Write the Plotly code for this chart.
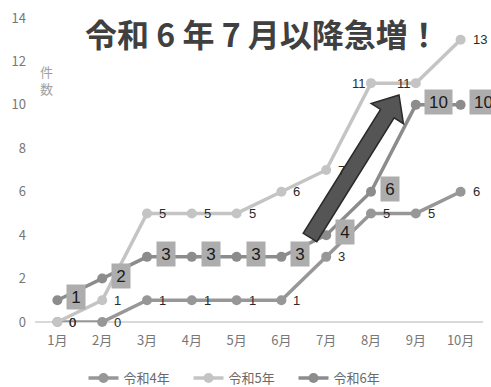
import plotly.graph_objects as go
import math

months = ["1月", "2月", "3月", "4月", "5月", "6月", "7月", "8月", "9月", "10月"]
r4 = [0, 0, 1, 1, 1, 1, 3, 5, 5, 6]
r5 = [0, 1, 5, 5, 5, 6, 7, 11, 11, 13]
r6 = [1, 2, 3, 3, 3, 3, 4, 6, 10, 10]
names = ["令和4年", "令和5年", "令和6年"]
colors = ["#979797", "#c4c4c4", "#8c8c8c"]
y_ticks = [0, 2, 4, 6, 8, 10, 12, 14]
# labels of 令和5年 placed on the left of the point (8月, 9月)
r5_left = {"8月", "9月"}

FONT = "Noto Sans CJK JP"
NUMFONT = "Liberation Sans"
W, H = 491, 387
L, R, T, B = 35, 8, 18, 65

fig = go.Figure()
for name, vals, col in zip(names, [r4, r5, r6], colors):
    fig.add_trace(go.Scatter(
        x=months, y=vals, name=name, mode="lines+markers",
        line=dict(color=col, width=3.5), marker=dict(color=col, size=10),
        cliponaxis=False,
    ))

annotations = []
for vals, left_set in ((r4, set()), (r5, r5_left)):
    for m, v in zip(months, vals):
        left = m in left_set
        annotations.append(dict(
            x=m, y=v, xref="x", yref="y", text=str(v), showarrow=False,
            xanchor="right" if left else "left", xshift=-3 if left else 10, yshift=0,
            font=dict(family=NUMFONT, size=13, color="#2a2a2a"),
        ))

for m, v in zip(months, r6):
    s = str(v)
    annotations.append(dict(
        x=m, y=v, xref="x", yref="y", text=s, showarrow=False,
        xshift=19 if len(s) == 1 else 23, yshift=3,
        width=12 if len(s) == 1 else 21, height=18,
        bgcolor="#adadad", borderpad=3,
        font=dict(family=NUMFONT, size=17, color="#1a1a1a"),
    ))

annotations.append(dict(
    x=249 / W, y=1 - 19 / H, xref="paper", yref="paper", yanchor="middle",
    xanchor="center", showarrow=False, text="<b>令和 6 年 7 月以降急増！</b>",
    font=dict(family=FONT, size=32, color="#404040"),
))
annotations.append(dict(
    x=(38 - L) / (W - L - R), y=(322 - 60) / (322 - 18), xref="paper", yref="paper",
    showarrow=False, text="件<br>数", align="center",
    font=dict(family=FONT, size=13, color="#a0a0a0"),
))

# block arrow (decoration), built in pixel space then converted to paper coords
tail = (310.0, 237.5)
tip = (399.0, 95.0)
shaft_w, head_w, head_len = 16.0, 38.0, 22.0
dx, dy = tip[0] - tail[0], tip[1] - tail[1]
ln = math.hypot(dx, dy)
ux, uy = dx / ln, dy / ln
px_, py_ = -uy, ux
bx, by = tip[0] - ux * head_len, tip[1] - uy * head_len
pts = [
    (tail[0] + px_ * shaft_w / 2, tail[1] + py_ * shaft_w / 2),
    (bx + px_ * shaft_w / 2, by + py_ * shaft_w / 2),
    (bx + px_ * head_w / 2, by + py_ * head_w / 2),
    tip,
    (bx - px_ * head_w / 2, by - py_ * head_w / 2),
    (bx - px_ * shaft_w / 2, by - py_ * shaft_w / 2),
    (tail[0] - px_ * shaft_w / 2, tail[1] - py_ * shaft_w / 2),
]
pw, ph = W - L - R, H - T - B
def to_paper(p):
    return ((p[0] - L) / pw, (H - B - p[1]) / ph)
path = "M " + " L ".join(f"{to_paper(p)[0]:.5f},{to_paper(p)[1]:.5f}" for p in pts) + " Z"

fig.update_layout(
    width=W, height=H,
    margin=dict(l=L, r=R, t=T, b=B, autoexpand=False),
    paper_bgcolor="white", plot_bgcolor="white",
    font=dict(family=FONT, size=13, color="#7a7a7a"),
    showlegend=True,
    legend=dict(orientation="h", x=241 / W, xanchor="center", xref="container",
                y=(H - 378) / H, yanchor="middle", yref="container",
                font=dict(family=FONT, size=13, color="#6a6a6a"),
                entrywidth=60, entrywidthmode="pixels",
                tracegroupgap=0),
    annotations=annotations,
    shapes=[dict(type="path", xref="paper", yref="paper", path=path,
                 fillcolor="#555555", line=dict(color="#2a2a2a", width=1.5), layer="above")],
)
fig.update_xaxes(type="category", range=[-0.5, 9.5], showgrid=False, showline=False,
                 zeroline=False, ticks="", tickfont=dict(size=13, color="#777777"),
                 ticklabelstandoff=9)
fig.update_yaxes(range=[0, 14], tickvals=y_ticks, showgrid=False, zeroline=True,
                 zerolinecolor="#d9d9d9", zerolinewidth=1.5, showline=False, ticks="",
                 tickfont=dict(size=13, color="#777777"), ticklabelstandoff=8)

fig.write_html("out.html")
